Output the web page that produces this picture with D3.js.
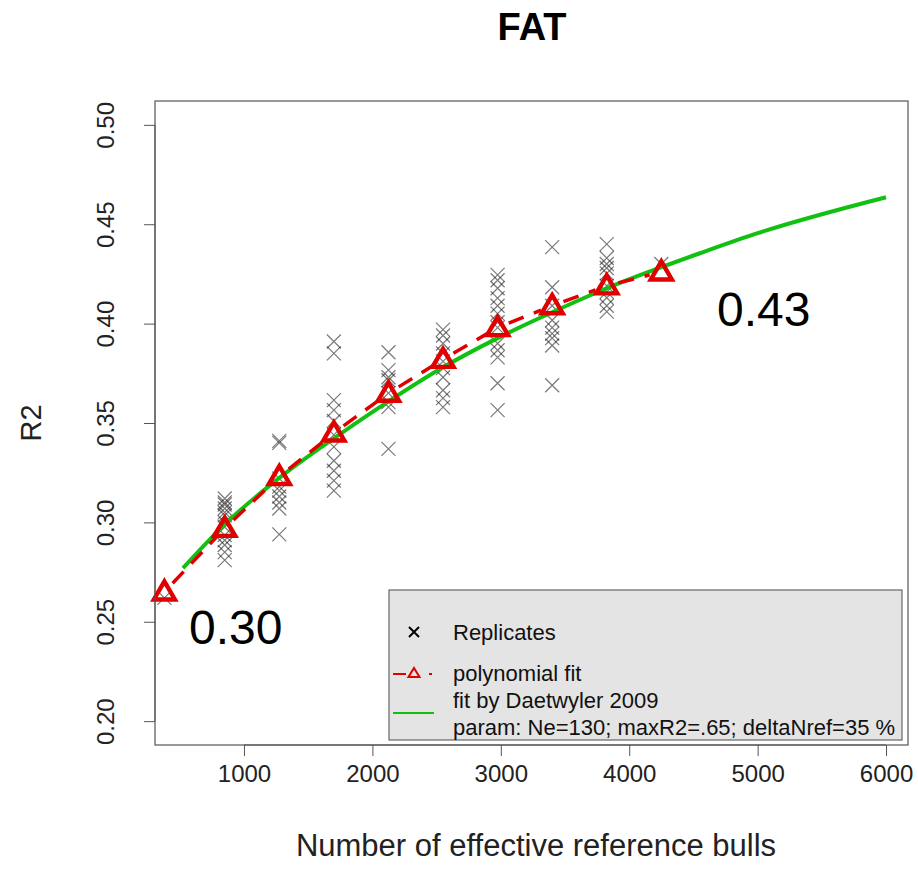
<!DOCTYPE html>
<html lang="en">
<head>
  <meta charset="UTF-8">
  <title>FAT</title>
  <script src="https://d3js.org/d3.v7.min.js"></script>
  <style>
    body {
      margin: 0;
      background: #fff;
      font-family: "Liberation Sans", Arial, sans-serif;
    }
    .tick text {
      font-family: "Liberation Sans", Arial, sans-serif;
      font-size: 24px;
      fill: #222;
    }
    .tick line {
      stroke: #555;
    }
  </style>
</head>
<body>
  <div id="chart"></div>
  <script>
    // replicate columns (number of effective reference bulls)
    const repN = [380, 850, 1275, 1700, 2125, 2550, 2975, 3400, 3825, 4250];
    // R2 of each replicate, one list per column
    const repR2 = [
      [0.262],
      [0.312, 0.310, 0.309, 0.307, 0.305, 0.3035, 0.300, 0.2976, 0.2936, 0.291, 0.2886, 0.285, 0.281],
      [0.341, 0.340, 0.322, 0.318, 0.316, 0.313, 0.310, 0.307, 0.294],
      [0.391, 0.385, 0.3615, 0.3565, 0.351, 0.344, 0.338, 0.331, 0.326, 0.321, 0.316],
      [0.3856, 0.3766, 0.373, 0.3715, 0.365, 0.3605, 0.358, 0.337],
      [0.397, 0.394, 0.390, 0.385, 0.381, 0.3776, 0.373, 0.3665, 0.3625, 0.358],
      [0.4245, 0.4218, 0.4178, 0.4128, 0.409, 0.405, 0.4007, 0.398, 0.390, 0.3866, 0.383, 0.370, 0.3565],
      [0.4385, 0.4183, 0.409, 0.4017, 0.398, 0.395, 0.3927, 0.389, 0.369],
      [0.440, 0.433, 0.430, 0.428, 0.4253, 0.419, 0.416, 0.413, 0.409, 0.406],
      [0.430]
    ];
    // polynomial fit (triangles)
    const polyN = [380, 850, 1275, 1700, 2125, 2550, 2975, 3400, 3825, 4250];
    const polyR2 = [0.265, 0.297, 0.323, 0.345, 0.365, 0.382, 0.398, 0.409, 0.419, 0.426];
    // Daetwyler 2009 curve
    const daetN = [525, 850, 1288, 1717, 2129, 2550, 2975, 3400, 3825, 4250, 4550, 5000, 6000];
    const daetR2 = [0.277, 0.299, 0.323, 0.343, 0.361, 0.378, 0.3927, 0.4057, 0.4178, 0.4284, 0.4354, 0.4455, 0.4636];

    const xTicks = [1000, 2000, 3000, 4000, 5000, 6000];
    const yTicks = [0.20, 0.25, 0.30, 0.35, 0.40, 0.45, 0.50];
    const legendLabels = ["Replicates", "polynomial fit", "fit by Daetwyler 2009",
                          "param: Ne=130; maxR2=.65; deltaNref=35 %"];

    const width = 918, height = 890;
    const plot = {left: 155, right: 908, top: 101, bottom: 745};
    const red = "#e00000", green = "#12c012";

    const svg = d3.select("#chart").append("svg")
      .attr("width", width)
      .attr("height", height);

    const x = d3.scaleLinear().domain([307, 6171]).range([plot.left, plot.right]);
    const y = d3.scaleLinear().domain([0.188, 0.512]).range([plot.bottom, plot.top]);

    // title
    svg.append("text")
      .attr("x", 532).attr("y", 40)
      .attr("text-anchor", "middle")
      .style("font-size", "38px").style("font-weight", "bold")
      .text("FAT");

    // axes
    const xAxis = svg.append("g")
      .attr("transform", `translate(0,${plot.bottom})`)
      .call(d3.axisBottom(x).tickValues(xTicks).tickFormat(d3.format("d"))
        .tickSize(11).tickPadding(9).tickSizeOuter(0));
    xAxis.select(".domain").remove();
    xAxis.selectAll(".tick text").attr("dy", "0.71em");

    const yAxis = svg.append("g")
      .attr("transform", `translate(${plot.left},0)`)
      .call(d3.axisLeft(y).tickValues(yTicks).tickFormat(d3.format(".2f")).tickSize(11).tickSizeOuter(0));
    yAxis.select(".domain").remove();
    yAxis.selectAll(".tick text")
      .attr("x", null).attr("dy", null)
      .attr("text-anchor", "middle")
      .attr("transform", "translate(-41,0) rotate(-90)");

    // axis lines from first to last tick
    svg.append("line")
      .attr("x1", x(xTicks[0])).attr("x2", x(xTicks[xTicks.length - 1]))
      .attr("y1", plot.bottom).attr("y2", plot.bottom)
      .attr("stroke", "#555");
    svg.append("line")
      .attr("x1", plot.left).attr("x2", plot.left)
      .attr("y1", y(yTicks[0])).attr("y2", y(yTicks[yTicks.length - 1]))
      .attr("stroke", "#555");

    // axis titles
    svg.append("text")
      .attr("x", 536).attr("y", 856)
      .attr("text-anchor", "middle")
      .style("font-size", "31px").style("fill", "#222")
      .text("Number of effective reference bulls");
    svg.append("text")
      .attr("transform", "translate(41,423) rotate(-90)")
      .attr("text-anchor", "middle")
      .style("font-size", "29px").style("fill", "#222")
      .text("R2");

    // replicates
    const reps = [];
    repN.forEach((n, i) => repR2[i].forEach(v => reps.push([n, v])));
    const cross = "M-7,-7L7,7M-7,7L7,-7";
    svg.append("g").selectAll("path")
      .data(reps)
      .join("path")
      .attr("d", cross)
      .attr("transform", d => `translate(${x(d[0])},${y(d[1])})`)
      .attr("fill", "none")
      .attr("stroke", "#222")
      .attr("stroke-opacity", 0.6)
      .attr("stroke-width", 1.2);

    // Daetwyler curve
    svg.append("path")
      .datum(daetN.map((n, i) => [n, daetR2[i]]))
      .attr("d", d3.line().x(d => x(d[0])).y(d => y(d[1])).curve(d3.curveMonotoneX))
      .attr("fill", "none")
      .attr("stroke", green)
      .attr("stroke-width", 4);

    // polynomial fit: dashed segments with gaps round the points (type "b")
    const poly = polyN.map((n, i) => [x(n), y(polyR2[i])]);
    const gap = 12;
    const segs = d3.pairs(poly).map(([a, b]) => {
      const dx = b[0] - a[0], dy = b[1] - a[1];
      const len = Math.hypot(dx, dy);
      const ux = dx / len, uy = dy / len;
      return [a[0] + ux * gap, a[1] + uy * gap, b[0] - ux * gap, b[1] - uy * gap];
    });
    svg.append("g").selectAll("line")
      .data(segs)
      .join("line")
      .attr("x1", d => d[0]).attr("y1", d => d[1])
      .attr("x2", d => d[2]).attr("y2", d => d[3])
      .attr("stroke", red)
      .attr("stroke-width", 3.5)
      .attr("stroke-dasharray", "16,11");

    const tri = "M0,-10.5L10.5,7.5L-10.5,7.5Z";
    svg.append("g").selectAll("path")
      .data(poly)
      .join("path")
      .attr("d", tri)
      .attr("transform", d => `translate(${d[0]},${d[1]})`)
      .attr("fill", "none")
      .attr("stroke", red)
      .attr("stroke-width", 4.4)
      .attr("stroke-linejoin", "miter");

    // annotations
    svg.append("text")
      .attr("x", 189).attr("y", 644)
      .style("font-size", "48px")
      .text("0.30");
    svg.append("text")
      .attr("x", 717).attr("y", 326)
      .style("font-size", "48px")
      .text("0.43");

    // legend
    const lg = svg.append("g");
    lg.append("rect")
      .attr("x", 389).attr("y", 590)
      .attr("width", 513).attr("height", 150)
      .attr("fill", "#e4e4e4")
      .attr("stroke", "#666")
      .attr("stroke-width", 1.2);
    lg.append("path")
      .attr("d", "M-5,-5L5,5M-5,5L5,-5")
      .attr("transform", "translate(414,632)")
      .attr("stroke", "#000")
      .attr("stroke-width", 2);
    lg.append("line")
      .attr("x1", 393).attr("x2", 406)
      .attr("y1", 674).attr("y2", 674)
      .attr("stroke", red).attr("stroke-width", 2);
    lg.append("line")
      .attr("x1", 429).attr("x2", 432)
      .attr("y1", 674).attr("y2", 674)
      .attr("stroke", red).attr("stroke-width", 2);
    lg.append("path")
      .attr("d", "M0,-5L5.5,4L-5.5,4Z")
      .attr("transform", "translate(414,673)")
      .attr("fill", "none")
      .attr("stroke", red).attr("stroke-width", 2);
    lg.append("line")
      .attr("x1", 393).attr("x2", 434)
      .attr("y1", 713).attr("y2", 713)
      .attr("stroke", green).attr("stroke-width", 2);

    const legendY = [632, 673, 700, 727];
    lg.selectAll("text.lab")
      .data(legendLabels)
      .join("text")
      .attr("class", "lab")
      .attr("x", 453)
      .attr("y", (d, i) => legendY[i])
      .attr("dy", "0.35em")
      .style("font-size", "22px")
      .style("fill", "#111")
      .text(d => d);

    // plot box
    svg.append("rect")
      .attr("x", plot.left).attr("y", plot.top)
      .attr("width", plot.right - plot.left).attr("height", plot.bottom - plot.top)
      .attr("fill", "none")
      .attr("stroke", "#555")
      .attr("stroke-width", 1.2);
  </script>
</body>
</html>
